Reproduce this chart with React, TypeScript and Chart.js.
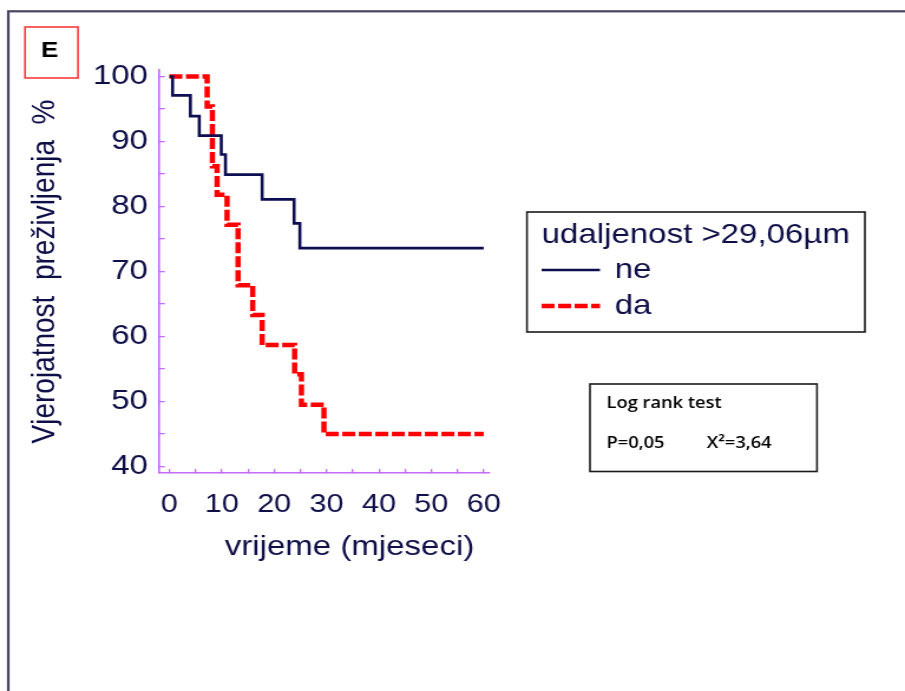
import React, { useEffect, useRef } from 'react';
import { Chart, registerables } from 'chart.js';

Chart.register(...registerables);

// ---- data ----
const timesNe = [0, 0.6, 4.0, 5.7, 9.9, 10.7, 17.7, 23.8, 24.9, 60];
const survivalNe = [100, 97.1, 93.9, 90.9, 88.0, 84.9, 81.1, 77.4, 73.6, 73.6];
const timesDa = [0, 7.2, 8.2, 9.1, 11.0, 13.1, 15.9, 17.7, 23.9, 25.2, 29.5, 60];
const survivalDa = [100, 95.4, 86.2, 81.8, 77.2, 67.9, 63.3, 58.7, 54.2, 49.5, 45.0, 45.0];
const seriesLabels = ['ne', 'da'];

const xTicks = [0, 5, 10, 15, 20, 25, 30, 35, 40, 45, 50, 55, 60];
const xTickLabels = ['0', '', '10', '', '20', '', '30', '', '40', '', '50', '', '60'];
const yTicks = [40, 45, 50, 55, 60, 65, 70, 75, 80, 85, 90, 95, 100];
const yTickLabels = ['40', '', '50', '', '60', '', '70', '', '80', '', '90', '', '100'];

const panelLetter = 'E';
const xTitle = 'vrijeme (mjeseci)';
const yTitle = 'Vjerojatnost  preživljenja  %';
const legendTitle = 'udaljenost >29,06µm';
const statsTitle = 'Log rank test';
const statsP = 'P=0,05';
const statsChi = 'X²=3,64';

// ---- presentation ----
const STRETCH = 1.18;
const W = 767;
const H = 691;
const FONT = "'Liberation Sans', Arial, sans-serif";
const NAVY = '#0d0d52';
const TEXT = '#0f0f48';
const AXIS = '#c46cf5';

const decorPlugin = {
  id: 'decor',
  beforeDraw(chart: any) {
    const ctx = chart.ctx;
    ctx.save();
    // outer frame
    ctx.strokeStyle = '#4a4262';
    ctx.lineWidth = 2.2;
    ctx.strokeRect(7, 11.3, 2000, 2000);
    // panel letter box
    ctx.strokeStyle = '#ff3b3b';
    ctx.lineWidth = 1.6;
    ctx.strokeRect(21.2, 27, 44.9, 51);
    ctx.fillStyle = '#000000';
    ctx.font = `bold 22px ${FONT}`;
    ctx.textAlign = 'center';
    ctx.textBaseline = 'middle';
    ctx.fillText(panelLetter, 42.2, 51);
    ctx.restore();
  },
  afterDraw(chart: any) {
    const ctx = chart.ctx;
    const area = chart.chartArea;
    ctx.save();
    // x axis title
    ctx.fillStyle = TEXT;
    ctx.font = `28px ${FONT}`;
    ctx.textAlign = 'center';
    ctx.textBaseline = 'middle';
    ctx.fillText(xTitle, area.left + 161.5, 547);

    // legend
    ctx.strokeStyle = '#1a1a1a';
    ctx.lineWidth = 1.6;
    ctx.strokeRect(446.6, 212, 286.4, 120);
    ctx.textAlign = 'left';
    ctx.fillStyle = TEXT;
    ctx.fillText(legendTitle, 459, 235.5);
    const rows = [270, 306];
    chart.data.datasets.forEach((ds: any, i: number) => {
      const y = rows[i];
      ctx.save();
      ctx.strokeStyle = ds.borderColor;
      ctx.lineWidth = i === 0 ? 2.6 : 4.5;
      ctx.setLineDash(ds.borderDash || []);
      ctx.beginPath();
      ctx.moveTo(459, y);
      ctx.lineTo(508.5, y);
      ctx.stroke();
      ctx.restore();
      ctx.fillStyle = TEXT;
      ctx.fillText(ds.label, 521, y);
    });

    // log rank box
    ctx.strokeStyle = '#1a1a1a';
    ctx.lineWidth = 1.6;
    ctx.strokeRect(500, 384, 192.4, 87.5);
    ctx.fillStyle = '#000000';
    ctx.font = `600 15.5px 'Open Sans', sans-serif`;
    ctx.fillText(statsTitle, 514, 403.5);
    ctx.fillText(statsP, 514, 444);
    ctx.fillText(statsChi, 599, 444);
    ctx.restore();
  },
};

export default function App() {
  const canvasRef = useRef<HTMLCanvasElement | null>(null);

  useEffect(() => {
    const canvas = canvasRef.current;
    if (!canvas) return;
    const chart = new Chart(canvas, {
      type: 'line',
      data: {
        datasets: [
          {
            label: seriesLabels[0],
            data: timesNe.map((t, i) => ({ x: t, y: survivalNe[i] })),
            borderColor: NAVY,
            borderWidth: 2.6,
            stepped: 'before',
            pointRadius: 0,
            fill: false,
          },
          {
            label: seriesLabels[1],
            data: timesDa.map((t, i) => ({ x: t, y: survivalDa[i] })),
            borderColor: '#ff0000',
            borderWidth: 4.5,
            borderDash: [11, 3],
            borderCapStyle: 'butt',
            stepped: 'before',
            pointRadius: 0,
            fill: false,
          },
        ],
      },
      options: {
        responsive: false,
        maintainAspectRatio: false,
        devicePixelRatio: 1,
        animation: false,
        events: [],
        layout: { padding: { left: 0, top: 70, right: W - 414.4, bottom: 118 } },
        plugins: {
          legend: { display: false },
          tooltip: { enabled: false },
        },
        scales: {
          x: {
            type: 'linear',
            min: -2,
            max: 61,
            afterFit: (s: any) => {
              s.height = 100;
            },
            afterBuildTicks: (s: any) => {
              s.ticks = xTicks.map((v) => ({ value: v }));
            },
            grid: {
              display: true,
              drawOnChartArea: false,
              drawTicks: true,
              tickLength: -4,
              color: AXIS,
              lineWidth: 1.3,
            },
            border: { display: true, color: AXIS, width: 1.6 },
            ticks: {
              autoSkip: false,
              maxRotation: 0,
              padding: 20.4,
              color: TEXT,
              font: { family: FONT, size: 26 },
              callback: (v: any) => {
                const i = xTicks.indexOf(Number(v));
                return i >= 0 ? xTickLabels[i] : '';
              },
            },
          },
          y: {
            type: 'linear',
            min: 39,
            max: 101,
            afterFit: (s: any) => {
              s.width = 134.7;
            },
            afterBuildTicks: (s: any) => {
              s.ticks = yTicks.map((v) => ({ value: v }));
            },
            grid: {
              display: true,
              drawOnChartArea: false,
              drawTicks: true,
              tickLength: -5,
              color: AXIS,
              lineWidth: 1.3,
            },
            border: { display: true, color: AXIS, width: 1.6 },
            title: {
              display: true,
              text: yTitle,
              color: TEXT,
              font: { family: FONT, size: 28 },
              padding: { top: 21, bottom: 0 },
            },
            ticks: {
              autoSkip: false,
              padding: 14.3,
              color: TEXT,
              font: { family: FONT, size: 28 },
              callback: (v: any) => {
                const i = yTicks.indexOf(Number(v));
                return i >= 0 ? yTickLabels[i] : '';
              },
            },
          },
        },
      },
      plugins: [decorPlugin],
    } as any);
    return () => chart.destroy();
  }, []);

  return (
    <div style={{ position: 'absolute', left: 0, top: 0, width: 905, height: 691, background: '#ffffff', overflow: 'hidden' }}>
      <canvas
        ref={canvasRef}
        width={W}
        height={H}
        style={{ width: `${Math.round(W * STRETCH)}px`, height: `${H}px`, display: 'block' }}
      />
    </div>
  );
}
